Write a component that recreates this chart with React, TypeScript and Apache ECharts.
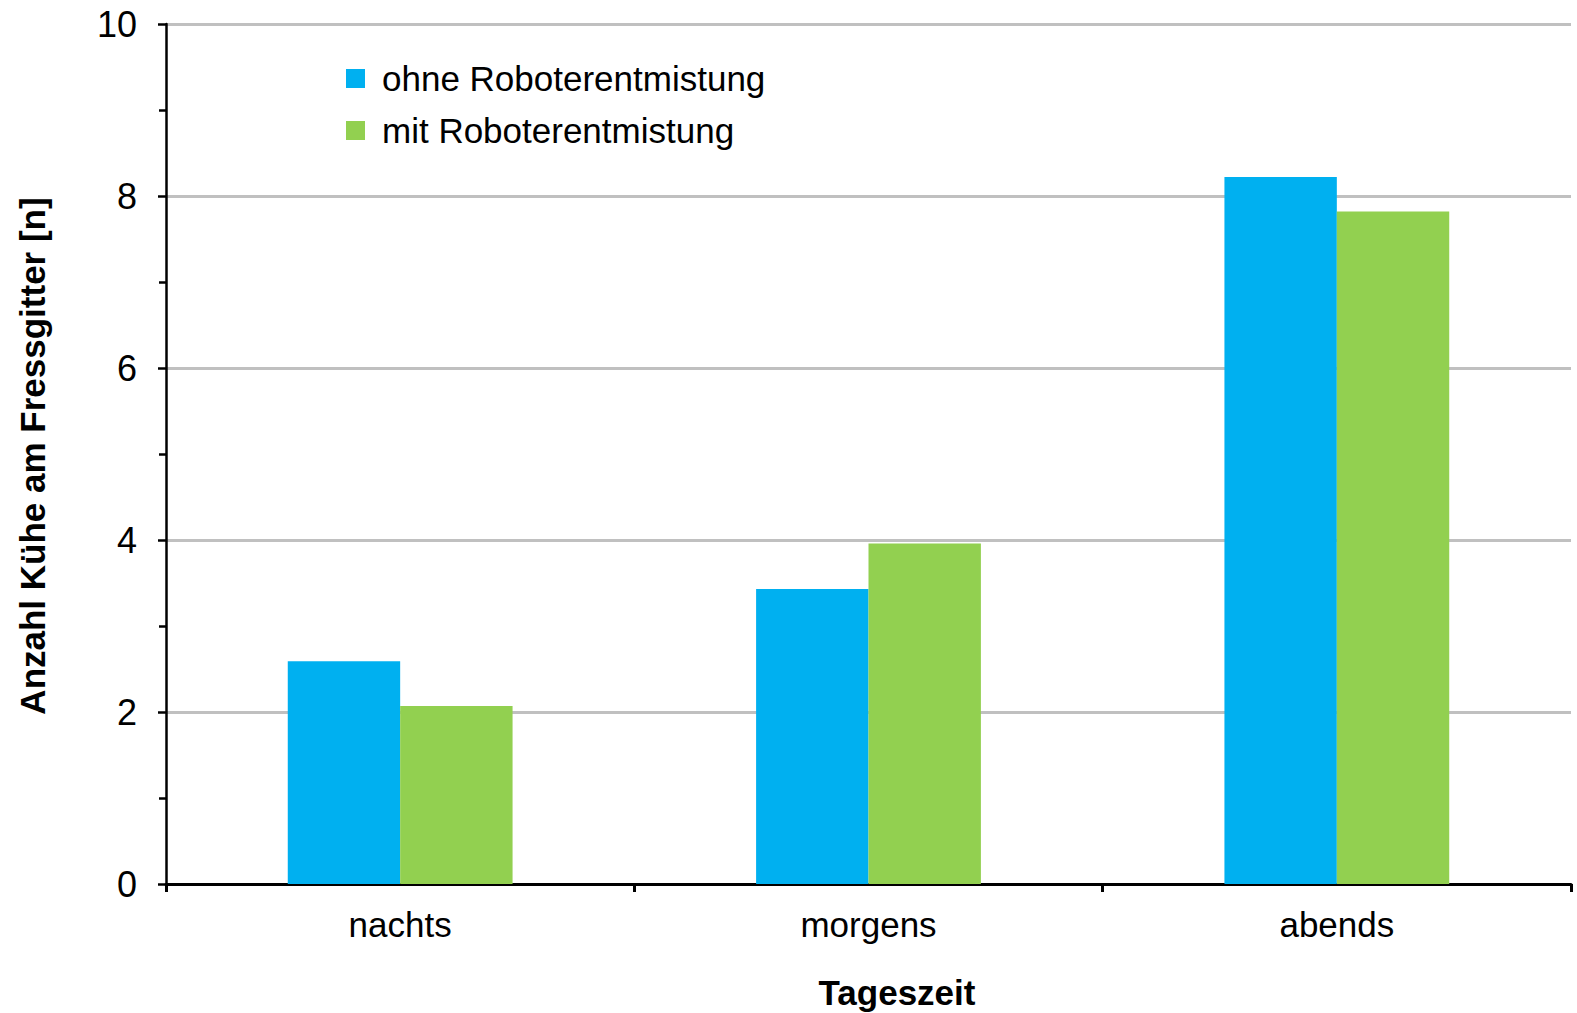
import React, { useEffect, useRef } from "react";
import * as echarts from "echarts";

// Tageszeit categories and mean number of cows at the feed fence
const categories = ["nachts", "morgens", "abends"];
const ohneRoboter = [2.59, 3.43, 8.22];
const mitRoboter = [2.07, 3.96, 7.82];
const seriesNames = ["ohne Roboterentmistung", "mit Roboterentmistung"];
const yTitle = "Anzahl Kühe am Fressgitter [n]";
const xTitle = "Tageszeit";

const FONT = "'Liberation Sans', Arial, sans-serif";
const BLUE = "#00B0F0";
const GREEN = "#92D050";

export default function App() {
  const ref = useRef<HTMLDivElement>(null);

  useEffect(() => {
    if (!ref.current) return;
    const chart = echarts.init(ref.current, undefined, { renderer: "svg" });
    chart.setOption({
      animation: false,
      backgroundColor: "#ffffff",
      textStyle: { fontFamily: FONT },
      grid: { left: 166, right: 6, top: 24, bottom: 129, containLabel: false },
      legend: {
        orient: "vertical",
        left: 341,
        top: 56,
        itemWidth: 19,
        itemHeight: 19,
        itemGap: 17,
        icon: "rect",
        data: seriesNames,
        textStyle: {
          fontFamily: FONT,
          fontSize: 35,
          color: "#000",
          padding: [0, 0, 0, 12],
        },
      },
      xAxis: {
        type: "category",
        data: categories,
        axisLine: { lineStyle: { color: "#000", width: 3 } },
        axisTick: { show: true, length: 8, lineStyle: { color: "#000", width: 3 } },
        axisLabel: { fontFamily: FONT, fontSize: 35, color: "#000", margin: 23 },
        splitLine: { show: false },
      },
      yAxis: {
        type: "value",
        min: 0,
        max: 10,
        interval: 2,
        axisLine: { show: true, lineStyle: { color: "#000", width: 2.5 } },
        axisTick: { show: true, length: 8, lineStyle: { color: "#000", width: 2.5 } },
        minorTick: { show: true, splitNumber: 2, length: 7, lineStyle: { color: "#000", width: 2.5 } },
        axisLabel: { fontFamily: FONT, fontSize: 36, color: "#000", margin: 29 },
        splitLine: { show: true, lineStyle: { color: "#c0c0c0", width: 3 } },
      },
      series: [
        {
          name: seriesNames[0],
          type: "bar",
          data: ohneRoboter,
          itemStyle: { color: BLUE },
          barGap: "0%",
          barCategoryGap: "52%",
        },
        {
          name: seriesNames[1],
          type: "bar",
          data: mitRoboter,
          itemStyle: { color: GREEN },
          barGap: "0%",
          barCategoryGap: "52%",
        },
      ],
      graphic: [
        {
          type: "text",
          x: 32,
          y: 456,
          rotation: Math.PI / 2,
          style: {
            text: yTitle,
            fontFamily: FONT,
            fontSize: 35,
            fontWeight: "bold",
            fill: "#000",
            align: "center",
            verticalAlign: "middle",
          },
        },
        {
          type: "text",
          x: 897,
          y: 992,
          style: {
            text: xTitle,
            fontFamily: FONT,
            fontSize: 35,
            fontWeight: "bold",
            fill: "#000",
            align: "center",
            verticalAlign: "middle",
          },
        },
      ],
    });
    return () => chart.dispose();
  }, []);

  return (
    <div
      ref={ref}
      style={{ position: "absolute", left: 0, top: 0, width: 1577, height: 1013 }}
    />
  );
}
